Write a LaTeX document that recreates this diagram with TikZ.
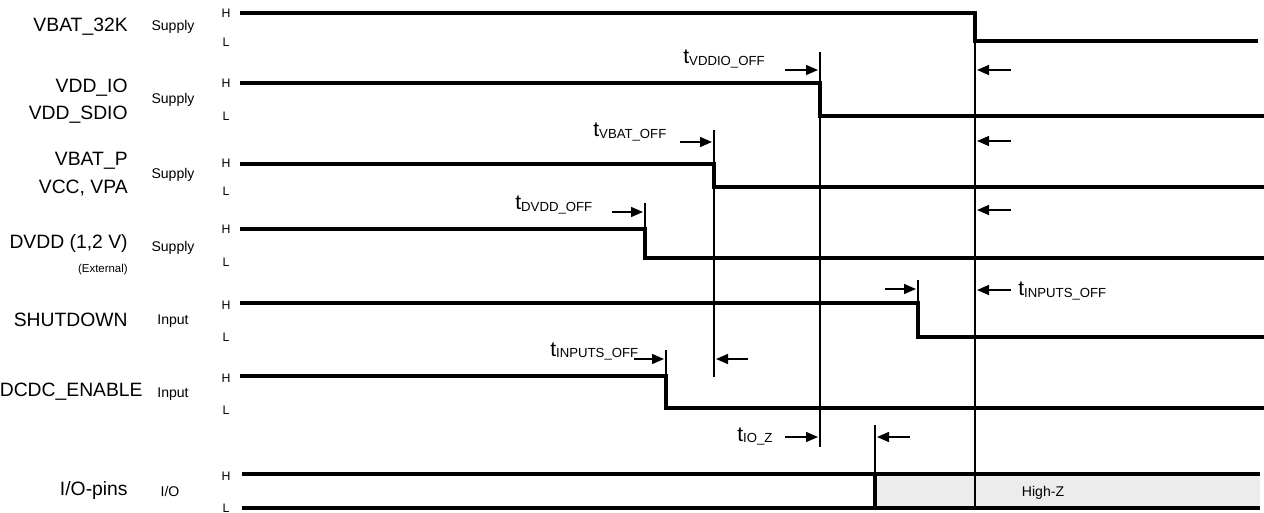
\documentclass[tikz,border=0pt]{standalone}
\usepackage{fontspec}
\setmainfont{Liberation Sans}
\usetikzlibrary{arrows.meta}
\newcommand{\tdel}[1]{t{\fontsize{7.5}{8}\selectfont\raisebox{-0.8pt}{#1}}}

\begin{document}
\begin{tikzpicture}[x=0.02cm,y=-0.02cm,
        sig/.style={line width=2pt},
        guide/.style={line width=0.7pt},
        tarrow/.style={line width=0.8pt,-{Triangle[length=2.4mm,width=2mm]}},
        signame/.style={anchor=east,align=right,inner sep=0pt,font=\fontsize{11}{15.5}\selectfont},
        sigkind/.style={inner sep=0pt,font=\fontsize{8}{9}\selectfont},
        level/.style={inner sep=0pt,font=\fontsize{7}{8}\selectfont},
        tlabel/.style={anchor=base west,inner sep=0pt,font=\fontsize{12}{14}\selectfont}]
        \useasboundingbox (0,0) rectangle (1264,513);

        % signal names
        \node[signame] (vbat32k) at (128,27) {VBAT\_32K};
        \node[signame] (vddio) at (128,101) {VDD\_IO\\VDD\_SDIO};
        \node[signame] (vbatp) at (128,174) {VBAT\_P\\VCC, VPA};
        \node[signame] (dvdd) at (128,243) {DVDD (1,2 V)};
        \node[signame,font=\fontsize{6.5}{7}\selectfont] (ext) at (128,270) {(External)};
        \node[signame] (shutdown) at (128,320) {SHUTDOWN};
        \node[signame] (dcdc) at (143,392) {DCDC\_ENABLE};
        \node[signame] (iopins) at (128,491) {I/O-pins};

        % signal kinds
        \foreach \y/\k in {27/Supply,100/Supply,175/Supply,248/Supply,321/Input,394/Input}
            \node[sigkind] (kind\y) at (173,\y) {\k};
        \node[sigkind] (kindio) at (170,491) {I/O};

        % H and L levels
        \foreach \hy/\ly in {13/42,83/116,163/191,229/262,305/337,378/410,476/508} {
            \node[level] (h\hy) at (226,\hy) {H};
            \node[level] (l\ly) at (226,\ly) {L};
        }

        % high-z area
        \fill[gray!15] (875,474) rectangle (1260,508);
        \node[font=\fontsize{8}{9}\selectfont] (highz) at (1043,493) {High-Z};

        % guide lines
        \draw[guide] (975,13) -- (975,508);
        \draw[guide] (820,52) -- (820,447);
        \draw[guide] (714,130) -- (714,377);
        \draw[guide] (645,203) -- (645,229);
        \draw[guide] (666,350) -- (666,376);
        \draw[guide] (918,280) -- (918,303);
        \draw[guide] (875,425) -- (875,474);

        % signals
        \draw[sig] (240,13) -- (975,13) -- (975,41) -- (1258,41);
        \foreach \hy/\ly/\fx in {83/116/820,164/187/714,229/258/645,303/337/918,376/408/666}
            \draw[sig] (240,\hy) -- (\fx,\hy) -- (\fx,\ly) -- (1264,\ly);
        \draw[sig] (242,474) -- (1260,474);
        \draw[sig] (242,508) -- (1260,508);
        \draw[sig] (875,474) -- (875,508);

        % delays
        \node[tlabel] (tvddio) at (683,64) {\tdel{VDDIO\_OFF}};
        \draw[tarrow] (785,70) -- (818,70);
        \node[tlabel] (tvbat) at (593,137) {\tdel{VBAT\_OFF}};
        \draw[tarrow] (680,142) -- (712,142);
        \node[tlabel] (tdvdd) at (515,210) {\tdel{DVDD\_OFF}};
        \draw[tarrow] (612,212) -- (643,212);
        \node[tlabel] (tinl) at (550,356) {\tdel{INPUTS\_OFF}};
        \draw[tarrow] (634,359) -- (664,359);
        \draw[tarrow] (748,359) -- (716,359);
        \draw[tarrow] (885,289) -- (916,289);
        \foreach \y in {70,141,210,290}
            \draw[tarrow] (1011,\y) -- (977,\y);
        \node[tlabel] (tinr) at (1018,296) {\tdel{INPUTS\_OFF}};
        \node[tlabel] (tioz) at (737,441) {\tdel{IO\_Z}};
        \draw[tarrow] (785,437) -- (818,437);
        \draw[tarrow] (910,437) -- (877,437);
\end{tikzpicture}
\end{document}
